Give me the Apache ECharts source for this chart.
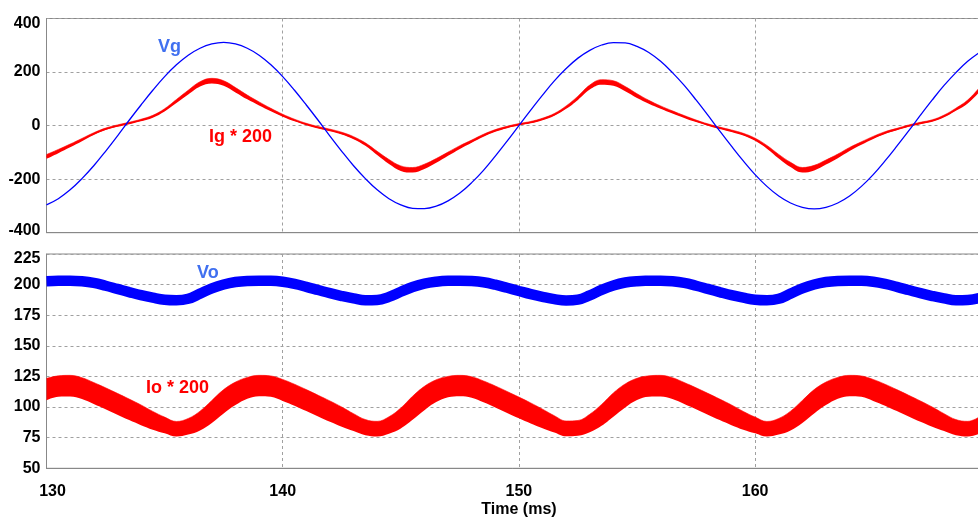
<!DOCTYPE html>
<html><head><meta charset="utf-8">
<script src="https://cdn.jsdelivr.net/npm/echarts@6/dist/echarts.min.js"></script>
<style>html,body{margin:0;padding:0;background:#fff}#c{width:978px;height:518px}</style>
</head><body><div id="c"></div>
<script>
// Time samples (ms)
const time = [130,130.5,131,131.5,132,132.5,133,133.5,134,134.5,
135,135.5,136,136.5,137,137.5,138,138.5,139,139.5,
140,140.5,141,141.5,142,142.5,143,143.5,144,144.5,
145,145.5,146,146.5,147,147.5,148,148.5,149,149.5,
150,150.5,151,151.5,152,152.5,153,153.5,154,154.5,
155,155.5,156,156.5,157,157.5,158,158.5,159,159.5,
160,160.5,161,161.5,162,162.5,163,163.5,164,164.5,
165,165.5,166,166.5,167,167.5,168,168.5,169,169.5];
// Grid voltage Vg (V)
const vg = [-296,-273,-240,-198,-150,-96,-39,20,77,132,
183,227,263,289,305,311,305,289,263,227,
183,132,77,20,-39,-96,-150,-198,-240,-273,
-296,-309,-310,-301,-281,-252,-213,-167,-114,-58,
0,58,114,167,213,252,281,301,310,309,
296,273,240,198,150,96,39,-20,-77,-132,
-183,-227,-263,-289,-305,-311,-305,-289,-263,-227,
-183,-132,-77,-20,39,96,150,198,240,273];
// Grid current Ig*200 (centre of the trace)
const ig = [-116,-96,-75,-53,-31,-13,-1,9,20,34,
58,91,124,155,167,158,133,106,82,59,
38,20,5,-7,-17,-29,-46,-70,-103,-135,
-160,-166,-153,-131,-106,-81,-59,-37,-19,-6,
4,12,24,41,68,103,143,162,158,137,
111,88,68,50,33,17,3,-9,-20,-33,
-52,-80,-115,-146,-166,-158,-137,-114,-88,-66,
-45,-27,-14,-1,9,18,35,60,89,134];
// Switching-ripple band height of Ig*200 trace
const igBand = [16,14,12,10,8.5,7.5,7,7,7.5,8.5,
10,13,16,18,19,19,18,16,13,11,
9,8,7,7,7.5,8.5,9.5,11,14,17,
19,19,18,16,14,12,10,9,8,7,
7,7,7.5,8.5,11,14,17,19,19,18,
16,13,11,10,9,8,7,7,7.5,8.5,
10,12,15,18,19,19,17,15,13,11,
9.5,8.5,7.5,7,7,7.5,8.5,10,13,16];
// Output voltage Vo (V)
const vo = [202.8,203.1,203.2,202.7,201.4,199.1,196.5,193.9,191.4,189.3,
187.6,187.2,188.4,192.6,196.9,200.1,202.1,203.0,203.2,203.1,
202.3,200.6,198.2,195.6,193.0,190.7,188.7,187.2,187.4,190.0,
194.2,198.1,200.9,202.4,203.1,203.2,202.9,201.9,199.9,197.4,
194.8,192.2,190.0,188.1,187.0,187.7,191.2,195.7,199.3,201.7,
202.8,203.1,203.2,202.7,201.4,199.1,196.5,193.9,191.4,189.3,
187.6,187.2,188.4,192.6,196.9,200.1,202.1,203.0,203.2,203.1,
202.3,200.6,198.2,195.6,193.0,190.7,188.7,187.2,187.4,189.0];
// Output current Io*200 (centre of band)
const io = [114.5,117.0,117.3,115.3,111.3,107.0,102.5,98.0,93.5,89.0,
85.2,82.1,84.1,88.8,96.2,104.5,111.0,115.5,117.4,116.9,
113.8,109.9,105.5,101.0,96.5,92.0,87.5,83.4,82.2,85.2,
90.9,99.2,107.2,113.2,116.5,117.4,116.2,112.6,108.5,104.0,
99.5,95.0,90.5,86.1,82.4,82.8,86.8,93.4,101.8,109.3,
114.6,117.0,117.3,115.3,111.3,107.0,102.5,98.0,93.5,89.0,
85.2,82.1,84.1,88.8,96.2,104.5,111.0,115.5,117.4,116.9,
113.8,109.9,105.5,101.0,96.5,92.0,87.5,83.4,82.2,85.2];
// Ripple band height of Io*200
const ioBand = [17.8,17,17.2,17.4,17.5,17.5,17.4,17.1,16.5,14.9,
13.2,12.3,13.2,15.7,18.4,19.5,18.8,17.4,17,17,
17.5,17.5,17.5,17.3,17,16.1,14.2,12.8,12.3,13.8,
16.7,19.3,19.5,18.2,17.1,17,17.1,17.5,17.5,17.5,
17.3,16.8,15.6,13.7,12.5,12.5,14.7,17.5,19.5,19.2,
17.8,17,17.2,17.4,17.5,17.5,17.4,17.1,16.5,14.9,
13.2,12.3,13.2,15.7,18.4,19.5,18.8,17.4,17,17,
17.5,17.5,17.5,17.3,17,16.1,14.2,12.8,12.3,13.8];
const xTicks = [130,140,150,160];
const yTopTicks = [-400,-200,0,200,400];
const yBotTicks = [50,75,100,125,150,175,200,225];

const FONT = '"Liberation Sans", Arial, sans-serif';
const lowEdge = (c,b) => c.map((v,i)=>v-b[i]/2);
const isTick = v => xTicks.indexOf(Number(v)) >= 0;
const split = {show:true, interval:(i,v)=>isTick(v), lineStyle:{color:'#a0a0a0', type:[3,3], width:1}};
const lbl = {fontSize:16, fontWeight:'bold', color:'#000', fontFamily:FONT};

function xAxis(gi, labels){
  return {gridIndex:gi, type:'category', data:time.map(String), boundaryGap:false,
    axisLine:{show:true, onZero:false, lineStyle:{color:'#888'}}, axisTick:{show:false},
    splitLine:split,
    name: labels ? 'Time (ms)' : '', nameLocation:'middle', nameGap:33,
    nameTextStyle:Object.assign({}, lbl, {padding:[0,0,0,12]}),
    axisLabel: labels ? Object.assign({}, lbl, {margin:15, interval:0,
      formatter: v => !isTick(v) ? '' : (Number(v)===xTicks[0] ? '{a|'+v+'}' : String(v)),
      rich:{a:Object.assign({}, lbl, {padding:[0,0,0,12]})}}) : {show:false}};
}
function yAxis(gi, ticks){
  const mn = ticks[0], mx = ticks[ticks.length-1];
  return {gridIndex:gi, type:'value', min:mn, max:mx, interval:ticks[1]-ticks[0],
    axisLine:{show:true, onZero:false, lineStyle:{color:'#888'}}, axisTick:{show:false},
    splitLine:{show:true, lineStyle:{color:'#a0a0a0', type:[3,3], width:1}},
    axisLabel:Object.assign({}, lbl, {margin:6,
      formatter: v => v===mx ? '{t|'+v+'}' : (v===mn && gi===0 ? '{b|'+v+'}' : String(v)),
      rich:{t:Object.assign({}, lbl, {padding:[10,0,0,0]}),
            b:Object.assign({}, lbl, {padding:[0,0,5,0]})}})};
}
const noLine = {width:0, opacity:0};
const W = 933;
const chart = echarts.init(document.getElementById('c'));
chart.setOption({
  animation:false,
  grid:[{left:46.5, top:18.5, width:W, height:214.2, show:true, borderColor:'#888', borderWidth:1, outerBoundsMode:'none', containLabel:false},
        {left:46.5, top:254, width:W, height:214.3, show:true, borderColor:'#888', borderWidth:1, outerBoundsMode:'none', containLabel:false}],
  xAxis:[xAxis(0,false), xAxis(1,true)],
  yAxis:[yAxis(0,yTopTicks), yAxis(1,yBotTicks)],
  series:[
    {type:'line', xAxisIndex:0, yAxisIndex:0, data:lowEdge(ig,igBand), stack:'ig', stackStrategy:'all',
      symbol:'none', smooth:0.4, lineStyle:noLine, silent:true},
    {type:'line', xAxisIndex:0, yAxisIndex:0, data:igBand, stack:'ig', stackStrategy:'all',
      symbol:'none', smooth:0.4, lineStyle:{width:0.6, color:'#ff0000'}, areaStyle:{color:'#ff0000', opacity:1}},
    {type:'line', xAxisIndex:0, yAxisIndex:0, data:ig, symbol:'none', smooth:0.4,
      lineStyle:{width:1.2, color:'#ff0000'}},
    {type:'line', xAxisIndex:0, yAxisIndex:0, data:vg, symbol:'none', smooth:0.4,
      lineStyle:{width:1.3, color:'#0000ff'}},
    {type:'line', xAxisIndex:1, yAxisIndex:1, data:vo, symbol:'none', smooth:0.4,
      lineStyle:{width:10.5, color:'#0000ff'}},
    {type:'line', xAxisIndex:1, yAxisIndex:1, data:lowEdge(io,ioBand), stack:'io', stackStrategy:'all',
      symbol:'none', smooth:0.4, lineStyle:noLine, silent:true},
    {type:'line', xAxisIndex:1, yAxisIndex:1, data:ioBand, stack:'io', stackStrategy:'all',
      symbol:'none', smooth:0.4, lineStyle:{width:0.6, color:'#ff0000'}, areaStyle:{color:'#ff0000', opacity:1}}
  ],
  graphic:[
    {type:'text', x:158, y:47, style:{text:'Vg', fill:'#4070f0', font:'bold 18px '+FONT, verticalAlign:'middle', align:'left'}},
    {type:'text', x:209, y:137, style:{text:'Ig * 200', fill:'#ff0000', font:'bold 18px '+FONT, verticalAlign:'middle', align:'left'}},
    {type:'text', x:197, y:273, style:{text:'Vo', fill:'#4070f0', font:'bold 18px '+FONT, verticalAlign:'middle', align:'left'}},
    {type:'text', x:146, y:388, style:{text:'Io * 200', fill:'#ff0000', font:'bold 18px '+FONT, verticalAlign:'middle', align:'left'}}
  ]
});
</script></body></html>
